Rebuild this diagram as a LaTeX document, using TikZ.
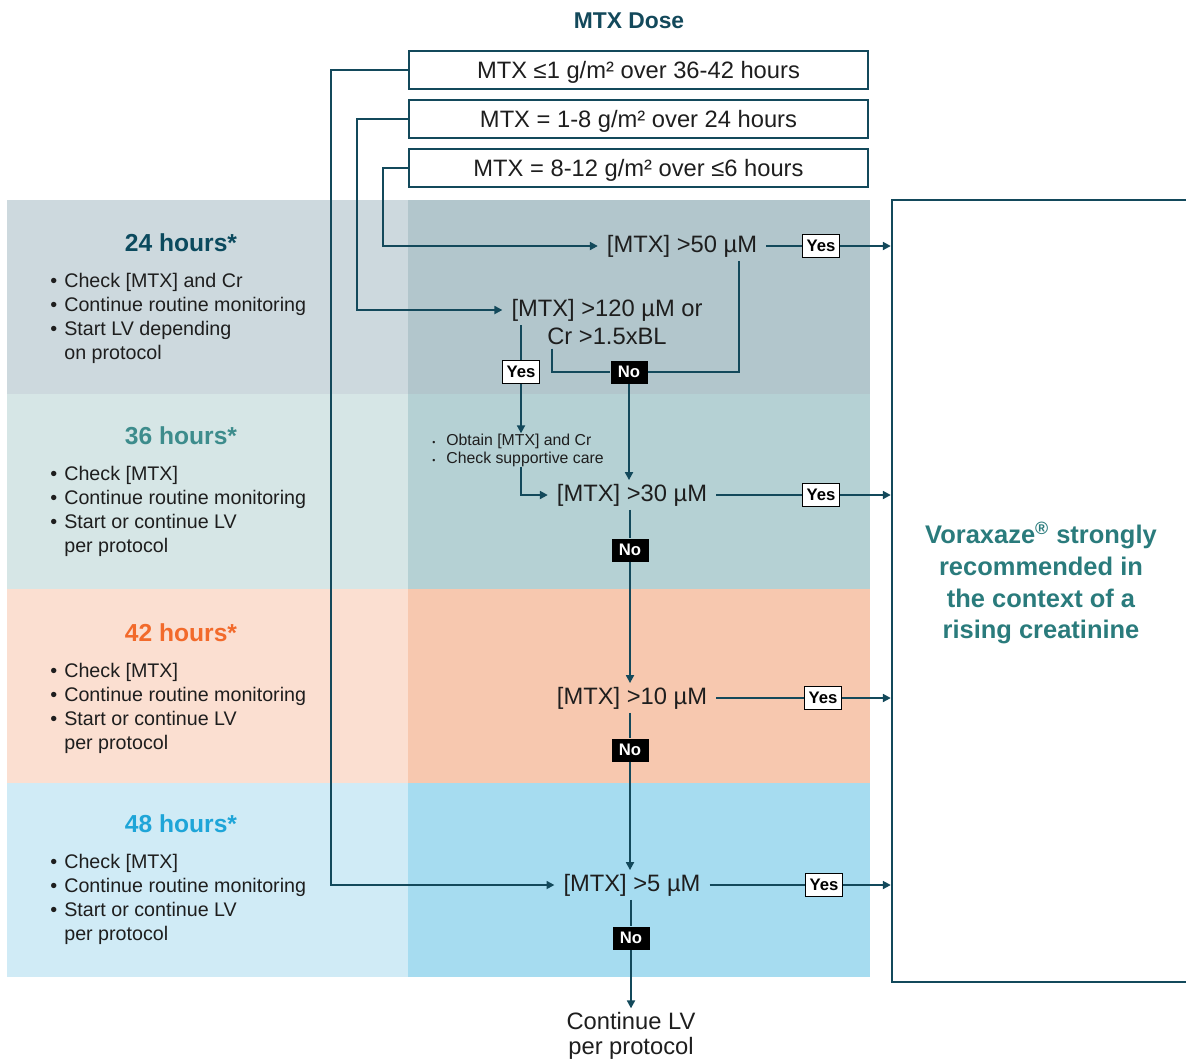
\documentclass[tikz,border=0pt]{standalone}
\usepackage{fontspec}
\setmainfont{Liberation Sans}
\usetikzlibrary{positioning,calc,arrows.meta}

\definecolor{linec}{HTML}{13495B}
\definecolor{txtc}{HTML}{1E1E1E}
\definecolor{bandAl}{HTML}{CDD9DE}\definecolor{bandAr}{HTML}{B2C6CC}
\definecolor{bandBl}{HTML}{D6E6E6}\definecolor{bandBr}{HTML}{B5D1D4}
\definecolor{bandCl}{HTML}{FBDFD1}\definecolor{bandCr}{HTML}{F7C8AF}
\definecolor{bandDl}{HTML}{D0EBF6}\definecolor{bandDr}{HTML}{A6DCF0}
\definecolor{hrsA}{HTML}{0B4A5E}\definecolor{hrsB}{HTML}{3D8C8C}
\definecolor{hrsC}{HTML}{F26A2B}\definecolor{hrsD}{HTML}{1EA5D8}
\definecolor{voraxc}{HTML}{2A7B7C}

\newcommand{\itm}[1]{\makebox[0.28cm][l]{\textbullet}#1}
\newcommand{\cnt}[1]{\hspace*{0.28cm}#1}
\newcommand{\sitm}[1]{\makebox[0.28cm][l]{\fontsize{5}{5}\selectfont\textbullet}#1}

\tikzset{
  conn/.style={draw=linec,line width=1.1pt},
  arr/.style={conn,-{Triangle[length=4.5pt,width=4.5pt]}},
  dosebox/.style={draw=linec,line width=1.4pt,minimum width=9.18cm,minimum height=0.76cm,
    text depth=0pt,text=txtc,font=\fontsize{13.5}{16}\selectfont},
  test/.style={inner xsep=5pt,inner ysep=2pt,text=txtc,align=center,font=\fontsize{13.5}{16}\selectfont},
  yesbox/.style={draw=black,fill=white,line width=1.1pt,minimum width=0.74cm,minimum height=0.46cm,
    inner sep=0pt,font=\bfseries\fontsize{9.5}{10}\selectfont},
  nobox/.style={fill=black,text=white,minimum width=0.74cm,minimum height=0.46cm,
    inner sep=0pt,font=\bfseries\fontsize{9.5}{10}\selectfont},
  hrs/.style={font=\bfseries\fontsize{14}{16}\selectfont},
  lst/.style={anchor=north west,align=left,inner sep=0pt,text=txtc,font=\fontsize{11.2}{13.6}\selectfont},
}

\begin{document}
\begin{tikzpicture}[x=0.02cm,y=-0.02cm]
\useasboundingbox (0,0) rectangle (1186,1059);

% bands
\fill[bandAl](7,200)rectangle(408,394);\fill[bandAr](408,200)rectangle(870,394);
\fill[bandBl](7,394)rectangle(408,589);\fill[bandBr](408,394)rectangle(870,589);
\fill[bandCl](7,589)rectangle(408,783);\fill[bandCr](408,589)rectangle(870,783);
\fill[bandDl](7,783)rectangle(408,977);\fill[bandDr](408,783)rectangle(870,977);

% time points
\node[hrs,text=hrsA] (h24) at (181,243) {24 hours*};
\node[lst] (l24) at (50,273) {\itm{Check [MTX] and Cr}\\\itm{Continue routine monitoring}\\\itm{Start LV depending}\\\cnt{on protocol}};
\node[hrs,text=hrsB] (h36) at (181,436) {36 hours*};
\node[lst] (l36) at (50,466) {\itm{Check [MTX]}\\\itm{Continue routine monitoring}\\\itm{Start or continue LV}\\\cnt{per protocol}};
\node[hrs,text=hrsC] (h42) at (181,633) {42 hours*};
\node[lst] (l42) at (50,663) {\itm{Check [MTX]}\\\itm{Continue routine monitoring}\\\itm{Start or continue LV}\\\cnt{per protocol}};
\node[hrs,text=hrsD] (h48) at (181,824) {48 hours*};
\node[lst] (l48) at (50,854) {\itm{Check [MTX]}\\\itm{Continue routine monitoring}\\\itm{Start or continue LV}\\\cnt{per protocol}};

% dose boxes
\node[font=\bfseries\fontsize{13}{15}\selectfont,text=linec] (title) at (629,21) {MTX Dose};
\node[dosebox] (dose1) at (638.5,70) {MTX ≤1 g/m² over 36-42 hours};
\node[dosebox] (dose2) at (638.5,119) {MTX = 1-8 g/m² over 24 hours};
\node[dosebox] (dose3) at (638.5,168) {MTX = 8-12 g/m² over ≤6 hours};

% tests
\node[test] (m50) at (682,246) {[MTX] >50 µM};
\node[test] (m120) at (607,322) {[MTX] >120 µM or\\Cr >1.5xBL};
\node[lst,anchor=center,font=\fontsize{9}{10.2}\selectfont] (obtain) at (518,450)
  {\sitm{Obtain [MTX] and Cr}\\\sitm{Check supportive care}};
\node[test] (m30) at (632,495) {[MTX] >30 µM};
\node[test] (m10) at (632,698) {[MTX] >10 µM};
\node[test] (m5) at (632,885) {[MTX] >5 µM};
\node[test,font=\fontsize{13.5}{14.5}\selectfont] (cont) at (631,1036) {Continue LV\\per protocol};

% yes / no
\node[yesbox] (yes1) at (821,246) {Yes};
\node[yesbox] (yes2) at (521,372) {Yes};
\node[nobox] (no1) at (629,372) {No};
\node[yesbox] (yes3) at (821,495) {Yes};
\node[nobox] (no2) at (630,550) {No};
\node[yesbox] (yes4) at (823,698) {Yes};
\node[nobox] (no3) at (630,750) {No};
\node[yesbox] (yes5) at (824,885) {Yes};
\node[nobox] (no4) at (631,938) {No};

% result box
\node[draw=linec,line width=1.4pt,minimum width=5.96cm,minimum height=15.64cm] (vorax) at (1041,591) {};
\node[align=center,text=voraxc,font=\bfseries\fontsize{14.5}{18.1}\selectfont] (vtxt) at (1041,583)
  {Voraxaze\textsuperscript{®} strongly\\recommended in\\the context of a\\rising creatinine};

% dose lines
\draw[arr] (dose3.west) -- ++(-25,0) |- (m50.west);
\draw[arr] (dose2.west) -- ++(-51,0) |- ([yshift=0.24cm]m120.west);
\draw[arr] (dose1.west) -- ++(-77,0) |- (m5.west);

% flow
\draw[conn] (m50.east) -- (yes1);
\draw[arr] (yes1) -- (yes1 -| vorax.west);
\draw[conn] ($(m120.south)+(-55,0)$) |- (no1) -| ($(m50.south)+(57,0)$);
\draw[conn] (yes2) -- ++(0,-47);
\draw[arr] (yes2) -- (yes2 |- obtain.north);
\draw[arr] (obtain.south -| yes2) |- (m30.west);
\draw[arr] (no1) -- (no1 |- m30.north);
\draw[conn] (m30.east) -- (yes3);
\draw[arr] (yes3) -- (yes3 -| vorax.west);
\draw[conn] (m30.south -| no2) -- (no2);
\draw[arr] (no2) -- (no2 |- m10.north);
\draw[conn] (m10.east) -- (yes4);
\draw[arr] (yes4) -- (yes4 -| vorax.west);
\draw[conn] (m10.south -| no3) -- (no3);
\draw[arr] (no3) -- (no3 |- m5.north);
\draw[conn] (m5.east) -- (yes5);
\draw[arr] (yes5) -- (yes5 -| vorax.west);
\draw[conn] (m5.south -| no4) -- (no4);
\draw[arr] (no4) -- (no4 |- cont.north);
% redraw boxes on top of lines
\foreach \n/\s in {yes1/yesbox,yes2/yesbox,no1/nobox,yes3/yesbox,no2/nobox,yes4/yesbox,no3/nobox,yes5/yesbox,no4/nobox}
  \node[\s] at (\n) {\ifnum\pdfstrcmp{\s}{nobox}=0 No\else Yes\fi};
\end{tikzpicture}
\end{document}
